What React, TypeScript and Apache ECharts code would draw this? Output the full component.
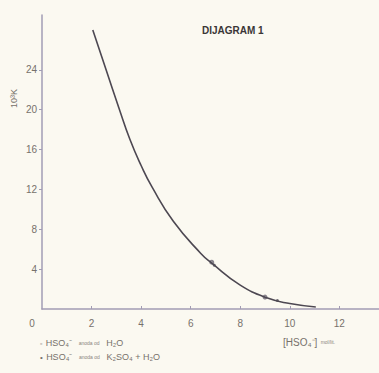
import React, { useEffect, useRef } from "react";
import * as echarts from "echarts";

const curveX = [2.05, 2.6, 3.1, 3.55, 4.0, 4.45, 5.3, 6.4, 6.85, 8.0, 9.1, 10.0, 11.05];
const curveY = [28.0, 23.9, 20.2, 17.0, 14.4, 12.2, 8.8, 5.6, 4.6, 2.4, 1.1, 0.55, 0.2];
const waterX = [6.85, 9.0];
const waterY = [4.7, 1.2];
const sulfateX = [6.95, 9.5];
const sulfateY = [4.4, 0.85];
const xTicks = [0, 2, 4, 6, 8, 10, 12];
const yTicks = [4, 8, 12, 16, 20, 24];

export default function App() {
  const ref = useRef<HTMLDivElement>(null);
  useEffect(() => {
    if (!ref.current) return;
    const chart = echarts.init(ref.current, null, { renderer: "svg" });
    const axisCol = "#a29cb4";
    const labelCol = "#77716b";
    const font = "Liberation Sans, Arial, sans-serif";
    chart.setOption({
      animation: false,
      backgroundColor: "#fbf9f1",
      grid: { left: 42, right: 0, top: 15, bottom: 64 },
      xAxis: {
        type: "value",
        min: 0,
        max: 13.6,
        interval: 2,
        axisLine: { show: true, lineStyle: { color: axisCol, width: 1.5 } },
        axisTick: { show: true, length: 3, inside: true, customValues: xTicks.slice(1), lineStyle: { color: axisCol } },
        splitLine: { show: false },
        axisLabel: {
          color: labelCol,
          fontSize: 10,
          fontFamily: font,
          margin: 9,
          customValues: xTicks,
          formatter: (v: number) => (v === 0 ? "{z|0}" : String(v)),
          rich: { z: { fontSize: 10, color: labelCol, padding: [0, 20, 0, 0] } },
        },
      },
      yAxis: {
        type: "value",
        min: 0,
        max: 29.5,
        interval: 4,
        axisLine: { show: true, lineStyle: { color: axisCol, width: 1.5 } },
        axisTick: { show: true, length: 3, customValues: yTicks, lineStyle: { color: axisCol } },
        splitLine: { show: false },
        axisLabel: {
          color: labelCol,
          fontSize: 10,
          fontFamily: font,
          margin: 5,
          customValues: yTicks,
        },
      },
      series: [
        {
          type: "line",
          smooth: 0.5,
          symbol: "none",
          lineStyle: { color: "#4d4852", width: 1.6 },
          data: curveX.map((x, i) => [x, curveY[i]]),
        },
        {
          type: "scatter",
          symbol: "emptyCircle",
          symbolSize: 3,
          itemStyle: { color: "#6a6470", borderColor: "#6a6470" },
          data: waterX.map((x, i) => [x, waterY[i]]),
        },
        {
          type: "scatter",
          symbol: "circle",
          symbolSize: 3,
          itemStyle: { color: "#4d4852" },
          data: sulfateX.map((x, i) => [x, sulfateY[i]]),
        },
      ],
      graphic: [
        {
          type: "text",
          left: 202,
          top: 25,
          style: {
            text: "DIJAGRAM 1",
            fontSize: 10,
            fontWeight: "bold",
            fill: "#3a3636",
            fontFamily: font,
          },
        },
        {
          type: "text",
          x: 9,
          y: 108,
          rotation: Math.PI / 2,
          style: {
            text: "10³K",
            fontSize: 9,
            fill: "#77716b",
            fontFamily: font,
          },
        },
        {
          type: "text",
          left: 283,
          top: 336,
          style: {
            text: "{a|[HSO₄⁻]} {b|mol/lit.}",
            fill: "#77716b",
            fontFamily: font,
            rich: {
              a: { fontSize: 10, fill: "#77716b" },
              b: { fontSize: 5, fill: "#8a847e" },
            },
          },
        },
        {
          type: "text",
          left: 40,
          top: 337,
          style: {
            text: "{m|▫} {a|HSO₄⁻}  {b|anoda od}  {a|H₂O}",
            fill: "#77716b",
            fontFamily: font,
            rich: {
              m: { fontSize: 7, fill: "#8a847e" },
              a: { fontSize: 9, fill: "#77716b" },
              b: { fontSize: 5, fill: "#8a847e" },
            },
          },
        },
        {
          type: "text",
          left: 40,
          top: 351,
          style: {
            text: "{m|•} {a|HSO₄⁻}  {b|anoda od}  {a|K₂SO₄ + H₂O}",
            fill: "#77716b",
            fontFamily: font,
            rich: {
              m: { fontSize: 8, fill: "#77716b" },
              a: { fontSize: 9, fill: "#77716b" },
              b: { fontSize: 5, fill: "#8a847e" },
            },
          },
        },
      ],
    });
    return () => chart.dispose();
  }, []);
  return (
    <div
      ref={ref}
      style={{ position: "fixed", left: 0, top: 0, width: 379, height: 373, background: "#fbf9f1" }}
    />
  );
}
